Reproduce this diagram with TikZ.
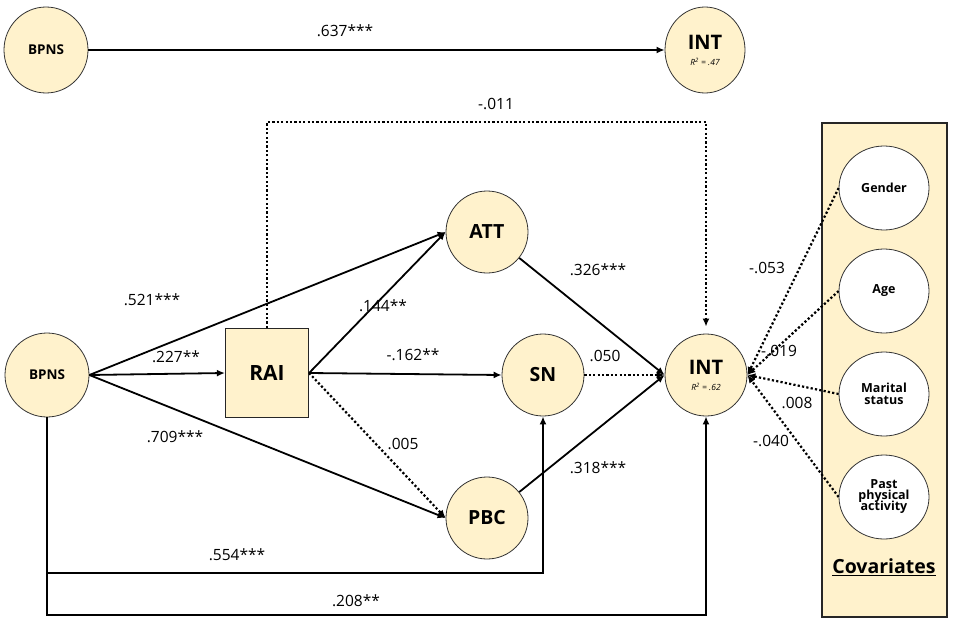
\documentclass[tikz,border=0pt]{standalone}
\usepackage{fontspec}
\setmainfont{Open Sans}
\usetikzlibrary{arrows.meta,shapes.geometric}
\definecolor{nodefill}{HTML}{FFF2CC}
\begin{document}
\begin{tikzpicture}[x=1pt,y=-1pt,
  lat/.style={circle,draw=black!80,line width=0.8pt,fill=nodefill,inner sep=0pt,minimum size=82pt,align=center,font=\bfseries\fontsize{19.5}{21}\selectfont},
  smalllat/.style={lat,font=\bfseries\fontsize{13.5}{15}\selectfont},
  cov/.style={ellipse,draw=black!80,line width=0.8pt,fill=white,inner sep=0pt,minimum width=90pt,minimum height=84pt,align=center,font=\bfseries\fontsize{12.5}{14}\selectfont},
  lab/.style={font=\fontsize{15.5}{17}\selectfont,inner sep=1pt},
  solidarrow/.style={line width=1.8pt,-{Latex[length=8pt,width=7pt]}},
  dotarrow/.style={line width=2.2pt,dash pattern=on 2.2pt off 2.2pt,-{Latex[length=8pt,width=7pt]}}
]
\useasboundingbox (0,0) rectangle (957,626);

% top model
\node[smalllat,ellipse,minimum width=84pt,minimum height=86pt] (bpnsT) at (46,50) {BPNS};
\node[lat,ellipse,minimum width=80pt,minimum height=86pt,font=\bfseries\fontsize{20}{20}\selectfont] (intT) at (705,50) {INT\\[-4pt]{\fontsize{8.5}{9}\mdseries\itshape R\textsuperscript{2} = .47}};
\draw[solidarrow] (bpnsT) -- (intT);
\node[lab] (l637) at (345,31) {.637***};

% covariate box
\node[draw=black!85,line width=1.6pt,fill=nodefill,minimum width=125pt,minimum height=494pt,inner sep=0pt] (covbox) at (884.5,370) {};
\node[font=\bfseries\fontsize{19.5}{21}\selectfont] (covtitle) at (884,567) {\underline{Covariates}};
\node[cov] (gender) at (884,188) {Gender};
\node[cov] (age) at (884,291) {Age};
\node[cov] (marital) at (884,394) {Marital\\[-2pt]status};
\node[cov] (past) at (884,497) {Past\\[-3pt]physical\\[-3pt]activity};

% main model
\node[smalllat,minimum size=84pt] (bpns) at (47,375) {BPNS};
\node[draw=black!85,line width=1.2pt,fill=nodefill,minimum width=83pt,minimum height=89pt,inner sep=0pt,font=\bfseries\fontsize{21}{23}\selectfont] (rai) at (267,373) {RAI};
\node[lat] (att) at (487,232) {ATT};
\node[lat] (sn) at (543,375) {SN};
\node[lat] (pbc) at (487,518) {PBC};
\node[lat,font=\bfseries\fontsize{20}{20}\selectfont] (int) at (706,375) {INT\\[-4pt]{\fontsize{8.5}{9}\mdseries\itshape R\textsuperscript{2} = .62}};

\coordinate (toprow) at (0,122);
\coordinate (low1) at (0,573);
\coordinate (low2) at (0,615);

\draw[dotarrow,shorten >=7pt] (rai.north) -- (rai.north |- toprow) -| (int.north);
\draw[solidarrow] (bpns.east) -- (att.west);
\draw[solidarrow] (bpns.east) -- (rai.west);
\draw[solidarrow] (bpns.east) -- (pbc.west);
\draw[solidarrow] (rai.east) -- (att.west);
\draw[solidarrow] (rai.east) -- (sn.west);
\draw[dotarrow] (rai.east) -- (pbc.west);
\draw[solidarrow] (att) -- (int.west);
\draw[dotarrow] (sn) -- (int.west);
\draw[solidarrow] (pbc) -- (int.west);
\draw[solidarrow] (bpns.south) -- (bpns.south |- low1) -| (sn.south);
\draw[solidarrow] (bpns.south) -- (bpns.south |- low2) -| (int.south);

\draw[dotarrow] (gender.west) -- (int.east);
\draw[dotarrow] (age.west) -- (int.east);
\draw[dotarrow] (marital.west) -- (int.east);
\draw[dotarrow] (past.west) -- (int.east);

% labels
\node[lab] (l011) at (496,104) {-.011};
\node[lab] (l521) at (152,300) {.521***};
\node[lab] (l227) at (176,357) {.227**};
\node[lab] (l709) at (175,437) {.709***};
\node[lab] (l144) at (383,306) {.144**};
\node[lab] (l162) at (413,355) {-.162**};
\node[lab] (l005) at (403,444) {.005};
\node[lab] (l326) at (598,270) {.326***};
\node[lab] (l050) at (605,356) {.050};
\node[lab] (l318) at (598,468) {.318***};
\node[lab] (l554) at (237,555) {.554***};
\node[lab] (l208) at (356,601) {.208**};
\node[lab] (l053) at (767,268) {-.053};
\node[lab] (l019) at (779,351) {-.019};
\node[lab] (l008) at (797,403) {.008};
\node[lab] (l040) at (771,441) {-.040};
\end{tikzpicture}
\end{document}
